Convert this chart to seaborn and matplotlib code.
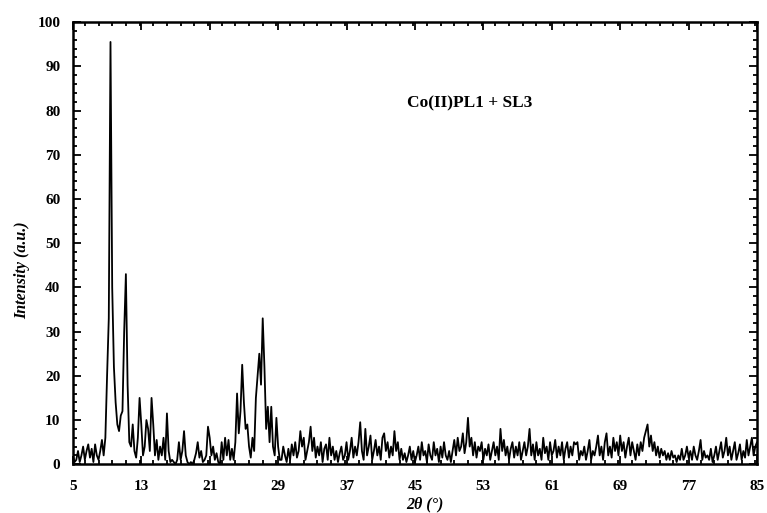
import numpy as np
import pandas as pd
import matplotlib
matplotlib.use("Agg")
import matplotlib.pyplot as plt
from matplotlib.ticker import MultipleLocator
import seaborn as sns

# 2-theta grid (degrees), 0.2 step
two_theta = np.round(np.arange(5.0, 85.01, 0.2), 1)

intensity = [
    2, 0.5,                                                                               # 5.0-5.2
    1, 3, 0.5, 2, 4, 1, 3, 4.5, 1.5, 3.5, 0.5, 4.5, 2, 1, 3, 5.5, 2, 6, 20, 33,            # 5.4-9.2
    95.5, 40, 22, 14, 9, 7.5, 11, 12, 30, 43, 18, 5, 4, 9, 3, 1.5, 6, 15, 9, 2,            # 9.4-13.2
    4, 10, 8, 3, 15, 9, 2, 5.5, 1, 4, 2, 6, 1, 11.5, 3, 0.5, 1, 0.5, 0, 1,                 # 13.4-17.2
    5, 1, 3, 7.5, 2, 0.5, 0, 0.5, 0, 1, 2.5, 5, 1.5, 3, 0.5, 1, 2, 8.5, 6, 2,              # 17.4-21.2
    4, 1, 2.5, 0.5, 0, 5, 1, 6, 2, 5.5, 1, 3.5, 1, 5, 16, 7, 12, 22.5, 14, 8,              # 21.4-25.2
    9, 4, 1.5, 6, 3, 15, 20, 25, 18, 33, 22, 8, 13, 5, 13, 4, 2, 10.5, 4, 1,               # 25.4-29.2
    1, 4, 2, 0.5, 3.5, 1, 4.5, 2, 5, 1.5, 3, 7.5, 4, 6, 1, 3, 5, 8.5, 3, 6,                # 29.4-33.2
    1.5, 4, 2, 5, 0.5, 3.5, 4.5, 1, 6, 2, 4, 1, 3, 0.5, 2.5, 4, 1, 2, 5, 1,                # 33.4-37.2
    3, 6, 1.5, 4, 2, 5, 9.5, 3, 1, 8, 2, 4, 6.5, 1, 3, 5.5, 2, 4, 1, 6,                    # 37.4-41.2
    7, 3, 5, 1.5, 4, 2, 7.5, 3, 5, 1, 3.5, 1, 2.5, 0.5, 2, 4, 1, 3, 0.5, 2,                # 41.4-45.2
    4, 1, 5, 2, 3, 0.5, 4.5, 2, 1, 5, 2, 3.5, 0.5, 4, 1.5, 5, 2, 1, 3, 0.5,                # 45.4-49.2
    3, 5.5, 2, 6, 3, 4, 7, 2.5, 5, 10.5, 4, 6, 2, 5, 1.5, 4, 3, 5, 1, 3.5,                 # 49.4-53.2
    2, 4.5, 1, 3, 5, 2, 4, 1, 8, 3, 5.5, 2, 4, 1, 3.5, 5, 1.5, 4, 2, 5,                    # 53.4-57.2
    1, 3, 5, 2, 4, 8, 2, 4.5, 1, 5, 2, 3.5, 1, 6, 2.5, 4, 1, 5, 2, 3,                      # 57.4-61.2
    5.5, 1.5, 4, 2, 5, 1, 3.5, 5, 1.5, 4, 2, 5, 4.5, 5, 1, 3, 2, 4, 1, 3,                  # 61.4-65.2
    5.5, 1, 3, 2, 4, 6.5, 2, 4, 1, 5, 7, 2, 4, 1.5, 6, 3, 5, 2, 6.5, 3,                    # 65.4-69.2
    5, 1.5, 4, 6, 2, 5, 3, 1, 4.5, 2, 5, 3, 6, 7.5, 9, 4, 6.5, 3, 5, 2,                    # 69.4-73.2
    4, 1.5, 3.5, 2, 3, 1, 2.5, 1, 3, 1.5, 2, 0.5, 2, 1, 3.5, 1, 2, 4, 1.5, 3,              # 73.4-77.2
    1, 4, 2, 1, 3, 5.5, 1, 3, 1.5, 2, 1, 3.5, 0.5, 2, 4, 1, 3, 5, 1.5, 3,                  # 77.4-81.2
    6, 2, 4, 1, 3, 5, 1, 2.5, 4.5, 1, 3, 1.5, 5.5, 2, 4, 6, 2, 4, 5,                       # 81.4-85.0
]

x_ticks = [5, 13, 21, 29, 37, 45, 53, 61, 69, 77, 85]
y_ticks = [0, 10, 20, 30, 40, 50, 60, 70, 80, 90, 100]
sample_label = "Co(II)PL1 + SL3"

df = pd.DataFrame({"two_theta": two_theta, "intensity": intensity})

sns.set_style("ticks")
plt.rcParams["font.family"] = ["Liberation Serif", "DejaVu Serif"]
plt.rcParams["text.color"] = "black"
plt.rcParams["axes.labelcolor"] = "black"

fig = plt.figure(figsize=(7.67, 5.13), dpi=100)
ax = fig.add_axes([0.095, 0.095, 0.892, 0.862])

sns.lineplot(data=df, x="two_theta", y="intensity", ax=ax, color="black", linewidth=1.3)

ax.set_xlim(5, 85)
ax.set_ylim(0, 100)
ax.set_xticks(x_ticks)
ax.set_yticks(y_ticks)
ax.xaxis.set_minor_locator(MultipleLocator(1.6))
ax.yaxis.set_minor_locator(MultipleLocator(2))
ax.tick_params(which="both", direction="in", top=True, right=True, width=1.3, colors="black")
ax.tick_params(which="major", length=6)
ax.tick_params(which="minor", length=3)
for lbl in ax.get_xticklabels() + ax.get_yticklabels():
    lbl.set_fontweight("bold")
    lbl.set_fontsize(11)
ax.tick_params(axis="x", pad=11)
ax.tick_params(axis="y", pad=9)
for sp in ax.spines.values():
    sp.set_linewidth(1.8)
    sp.set_color("black")

ax.set_xlabel("2θ (°)", fontsize=11.5, fontweight="bold", fontstyle="italic", color="black")
ax.set_ylabel("Intensity (a.u.)", fontsize=11.5, fontweight="bold", fontstyle="italic", color="black")
ax.xaxis.set_label_coords(0.515, -0.072)
ax.yaxis.set_label_coords(-0.062, 0.44)
ax.text(51.4, 81.7, sample_label, fontsize=12.5, fontweight="bold", ha="center", va="center",
        color="black")

fig.savefig("out.png", dpi=100, facecolor="white")
